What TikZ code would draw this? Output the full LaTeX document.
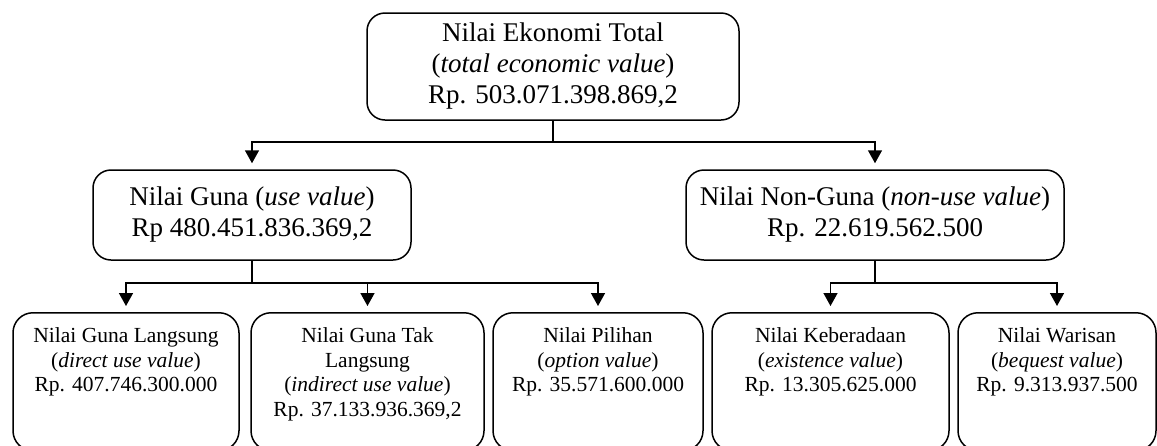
\documentclass[tikz,border=0pt]{standalone}
\usepackage{fontspec}
\setmainfont{Liberation Serif}
\usetikzlibrary{arrows.meta}

\newcommand{\bigtext}{\fontsize{27}{31}\selectfont}
\newcommand{\smalltext}{\fontsize{21.5}{24.5}\selectfont}
\newcommand{\leaftext}[2]{\parbox[c][124pt][t]{#1}{\centering\vspace*{8pt}#2}}

\begin{document}
\begin{tikzpicture}[x=1pt,y=-1pt,
    mainbox/.style={draw, line width=1.5pt, rounded corners=18pt, align=center, font=\bigtext, inner sep=0pt},
    leafbox/.style={draw, line width=1.5pt, rounded corners=20pt, inner sep=0pt, minimum height=138pt, anchor=north, font=\smalltext},
    link/.style={line width=1.5pt},
    arrow/.style={line width=1.5pt, -{Triangle[length=13pt,width=14pt]}, shorten >=6pt}]
    \useasboundingbox (0,0) rectangle (1157,445);

    % Top box
    \node[mainbox, minimum width=372pt, minimum height=107pt] (total) at (553,66.5)
        {Nilai Ekonomi Total\\(\textit{total economic value})\\Rp. 503.071.398.869,2};

    % Use and non-use value
    \node[mainbox, minimum width=318pt, minimum height=90pt] (use) at (252,215)
        {Nilai Guna (\textit{use value})\\Rp 480.451.836.369,2};
    \node[mainbox, minimum width=378pt, minimum height=90pt] (nonuse) at (875,215)
        {Nilai Non-Guna (\textit{non-use value})\\Rp. 22.619.562.500};

    % Bottom boxes
    \node[leafbox, minimum width=226pt] (direct) at (126,312)
        {\leaftext{216pt}{Nilai Guna Langsung\\(\textit{direct use value})\\Rp. 407.746.300.000}};
    \node[leafbox, minimum width=233pt] (indirect) at (367.5,312)
        {\leaftext{223pt}{Nilai Guna Tak\\Langsung\\(\textit{indirect use value})\\Rp. 37.133.936.369,2}};
    \node[leafbox, minimum width=210pt] (option) at (598,312)
        {\leaftext{200pt}{Nilai Pilihan\\(\textit{option value})\\Rp. 35.571.600.000}};
    \node[leafbox, minimum width=237pt] (exist) at (830.5,312)
        {\leaftext{227pt}{Nilai Keberadaan\\(\textit{existence value})\\Rp. 13.305.625.000}};
    \node[leafbox, minimum width=198pt] (bequest) at (1057,312)
        {\leaftext{188pt}{Nilai Warisan\\(\textit{bequest value})\\Rp. 9.313.937.500}};

    % Connectors
    \draw[link] (total.south) -- ++(0,21) coordinate (split0);
    \draw[arrow] (split0) -| (use.north);
    \draw[arrow] (split0) -| (nonuse.north);

    \draw[link] (use.south) -- ++(0,22) coordinate (split1);
    \foreach \leaf in {direct,indirect,option}
        \draw[arrow] (split1) -| (\leaf.north);

    \draw[link] (nonuse.south) -- ++(0,22) coordinate (split2);
    \foreach \leaf in {exist,bequest}
        \draw[arrow] (split2) -| (\leaf.north);
\end{tikzpicture}
\end{document}
